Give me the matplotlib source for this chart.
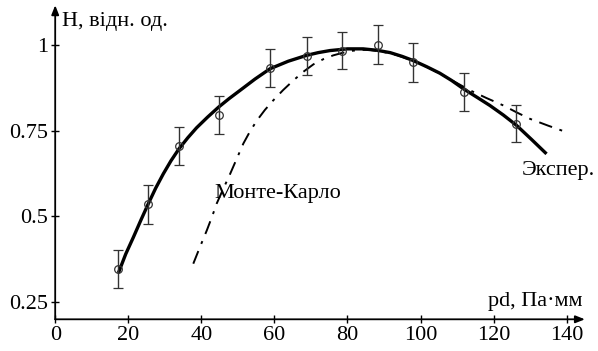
import matplotlib
matplotlib.use("Agg")
import matplotlib.pyplot as plt

plt.rcParams['font.family'] = ['Liberation Serif', 'DejaVu Serif']

# Experimental points with error bars
exp_x = [17.3, 25.5, 33.9, 44.9, 58.8, 68.8, 78.4, 88.5, 98.0, 111.9, 126.1]
exp_y = [0.347, 0.535, 0.705, 0.795, 0.933, 0.967, 0.983, 1.000, 0.949, 0.862, 0.770]
exp_err = [0.055, 0.056, 0.054, 0.055, 0.056, 0.055, 0.055, 0.057, 0.057, 0.056, 0.054]

# Experimental fit curve (solid)
fit_x = [17.3, 19.3, 21.4, 23.5, 25.5, 27.5, 29.6, 31.7, 33.9, 36.3, 38.7, 41.7, 44.7,
         47.6, 50.6, 54.7, 58.8, 63.8, 68.8, 72.0, 75.2, 80.0, 84.3, 88.0, 91.7, 95.0,
         98.0, 101.7, 105.3, 108.5, 111.7, 115.3, 119.0, 122.7, 126.3, 130.4, 134.5]
fit_y = [0.335, 0.390, 0.439, 0.490, 0.537, 0.582, 0.624, 0.662, 0.697, 0.729, 0.758,
         0.789, 0.818, 0.843, 0.867, 0.900, 0.930, 0.952, 0.969, 0.977, 0.983, 0.988,
         0.988, 0.984, 0.977, 0.966, 0.954, 0.936, 0.917, 0.896, 0.872, 0.848, 0.823,
         0.795, 0.765, 0.724, 0.682]

# Monte-Carlo curve (dash-dot)
mc_x = [37.8, 39.6, 41.5, 42.9, 44.2, 46.0, 47.9, 49.7, 51.5, 53.3, 55.2, 57.4, 59.7,
        62.4, 65.2, 67.9, 70.7, 73.4, 76.1, 78.5, 81.0, 83.5, 86.0, 89.5, 93.5, 98.0,
        102.6, 108.0, 113.6, 118.0, 122.7, 126.3, 130.0, 135.0, 140.0]
mc_y = [0.362, 0.410, 0.459, 0.498, 0.537, 0.580, 0.624, 0.668, 0.712, 0.747, 0.779,
        0.810, 0.838, 0.868, 0.896, 0.921, 0.943, 0.958, 0.969, 0.976, 0.982, 0.985,
        0.985, 0.980, 0.970, 0.953, 0.931, 0.900, 0.867, 0.845, 0.823, 0.803, 0.784,
        0.764, 0.745]

xticks = [0, 20, 40, 60, 80, 100, 120, 140]
yticks = [0.25, 0.5, 0.75, 1.0]
ytick_labels = ['0.25', '0.5', '0.75', '1']

W, H = 598, 351
fig = plt.figure(figsize=(W / 100, H / 100), dpi=100)
x0px, y0px = 55.2, 319.3
sx, sy = 3.653, 343.2
xmax, ymin, ymax = 145.0, 0.2, 1.115
ax = fig.add_axes([x0px / W, (H - y0px) / H, xmax * sx / W, (ymax - ymin) * sy / H])
ax.set_xlim(0, xmax)
ax.set_ylim(ymin, ymax)

for s in ax.spines.values():
    s.set_visible(False)

arrow = dict(arrowstyle='-|>,head_length=0.55,head_width=0.22', lw=1.3, color='black',
             shrinkA=0, shrinkB=0)
ax.annotate('', xy=(1, 0), xytext=(0, 0), xycoords='axes fraction', arrowprops=arrow,
            annotation_clip=False)
ax.annotate('', xy=(0, 1), xytext=(0, 0), xycoords='axes fraction', arrowprops=arrow,
            annotation_clip=False)

ax.set_xticks(xticks)
ax.set_xticklabels([str(v) for v in xticks])
ax.set_yticks(yticks)
ax.set_yticklabels(ytick_labels)
ax.tick_params(direction='inout', length=6, width=1.0, labelsize=16, pad=2)

ax.plot(fit_x, fit_y, color='black', lw=2.4, solid_capstyle='butt',
        solid_joinstyle='round', clip_on=False)
ax.plot(mc_x, mc_y, color='black', lw=1.4, dashes=[7, 4, 1.5, 4], clip_on=False)
ax.errorbar(exp_x, exp_y, yerr=exp_err, fmt='o', mfc='none', mec='#333333', ms=5.5,
            mew=0.9, ecolor='#333333', elinewidth=1.0, capsize=3.5, capthick=1.0,
            clip_on=False)

ax.text(1.9, 1.068, 'Н, відн. од.', fontsize=16, ha='left', va='center')
ax.text(144.4, 0.252, 'pd, Па·мм', fontsize=16, ha='right', va='center')
ax.text(43.7, 0.567, 'Монте-Карло', fontsize=16, ha='left', va='center')
ax.text(127.8, 0.633, 'Экспер.', fontsize=16, ha='left', va='center')

fig.savefig('out.png', dpi=100)
